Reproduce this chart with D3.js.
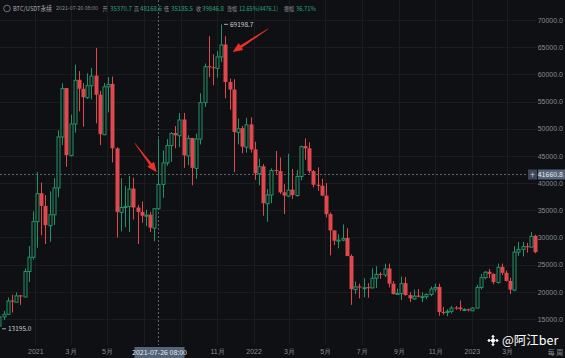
<!DOCTYPE html>
<html>
<head>
<meta charset="utf-8">
<script src="https://cdn.jsdelivr.net/npm/d3@7"></script>
<style>
    body { margin: 0; background: #0f1013; }
    svg { display: block; }
</style>
</head>
<body>
<div id="chart"></div>
<script>
// weekly BTC/USDT perp candles, first week starts 2020-11-02
var firstWeek = "2020-11-02";
var opens = [13780, 15480, 15960, 18400, 18180, 19350, 19140, 23830, 26450,
    33000, 38150, 35800, 32250, 34260, 39200, 48580, 57480, 45140, 50970, 59000, 57350, 55800, 58000, 59770, 56250, 49000, 57800, 58250, 46400, 34700, 35600, 35800, 39000, 35500, 34700, 34000, 34200, 31800, 35370.7, 39846.8, 43800, 47000, 49200, 48800, 51700, 45100, 48300, 42800, 48200, 54900, 61500, 61300, 61200, 63300, 65500, 58600, 57200, 49400, 50100, 46700, 50800,
    46200, 41800, 43100, 36300, 37900, 42400, 42200, 38300, 37700, 38800, 37800, 41300, 46800, 46400, 42200, 39700, 39500, 37700, 34300, 31300, 29400, 29600, 29900, 26600, 20500, 21000, 20800, 20850, 20800, 22600, 23300, 23200, 24300, 21500, 19600, 19800, 21600, 19400, 18800, 19300, 19100, 19200, 19600, 20600, 20900, 16300, 16300, 16500, 17100, 17100, 16800, 16800,
    16600, 17100, 20900, 22700, 23700, 23300, 21800, 24600, 23500, 22000, 20400, 27400, 27900, 28400, 28300, 30300];
var highs = [15960, 16480, 18950, 19480, 19900, 19420, 24300, 28420, 34800,
    42000, 40100, 37800, 38500, 40900, 49700, 58350, 57500, 52600, 61800, 60600, 58400, 60200, 61200, 64850, 57000, 58400, 59500, 59600, 46600, 40900, 39500, 41300, 41000, 36000, 36600, 35100, 34700, 35400, 48168.6, 46000, 48100, 49400, 50500, 52900, 52900, 48800, 48300, 49100, 56500, 62000, 67000, 63700, 64300, 69198.7, 67000, 59200, 59100, 51900, 50500, 52000, 52100,
    47600, 44500, 43500, 38900, 42700, 45900, 44700, 39800, 45400, 42600, 42400, 46900, 48200, 47500, 42400, 42900, 40800, 40000, 34600, 31300, 30600, 32400, 31700, 26900, 21900, 21500, 22500, 21600, 24300, 24700, 23600, 25200, 25200, 22000, 20600, 22800, 22700, 19900, 20400, 20500, 19900, 19700, 21000, 21500, 21500, 17200, 16800, 17400, 17400, 18400, 17000, 16900,
    17200, 21300, 23300, 23800, 24200, 23400, 25200, 25200, 23900, 22600, 28400, 29200, 29200, 29000, 31000, 30500];
var lows = [13195, 14800, 15780, 16200, 18100, 17600, 19000, 21800, 25900,
    28100, 30400, 28800, 29200, 32300, 37400, 47000, 43000, 44900, 49300, 53200, 50400, 55500, 55400, 51000, 47000, 48800, 53000, 43800, 30000, 31100, 31900, 31000, 33300, 28800, 32700, 32100, 31000, 29300, 35185.5, 37300, 43200, 43900, 46400, 46600, 42800, 43300, 39600, 40800, 47100, 54000, 59500, 58000, 59400, 62300, 55600, 53500, 42000, 47100, 45500, 45600, 45600,
    40600, 39600, 34000, 32900, 36300, 41700, 38000, 34300, 37400, 37100, 37500, 40500, 44300, 41800, 39200, 38600, 37600, 33700, 26700, 28600, 28000, 29300, 26600, 17600, 19600, 18800, 19000, 18900, 20800, 20700, 22400, 22700, 20800, 19500, 19500, 18500, 19300, 18100, 18500, 19000, 18100, 18600, 19200, 20000, 15600, 15800, 15500, 16000, 16700, 16500, 16600, 16400,
    16500, 17100, 20400, 22300, 22500, 21400, 21500, 23100, 21900, 19600, 20100, 26600, 26500, 27200, 28200, 27100];
var closes = [15480, 15960, 18400, 18180, 19350, 19140, 23830, 26450, 33000,
    38150, 35800, 32250, 34260, 39200, 48580, 57480, 45140, 50970, 59000, 57350, 55800, 58000, 59770, 56250, 49000, 57800, 58250, 46400, 34700, 35600, 35800, 39000, 35500, 34700, 34000, 34200, 31800, 35370.7, 39846.8, 43800, 47000, 49200, 48800, 51700, 45100, 48300, 42800, 48200, 54900, 61500, 61300, 61200, 63300, 65500, 58600, 57200, 49400, 50100, 46700, 50800, 46200,
    41800, 43100, 36300, 37900, 42400, 42200, 38300, 37700, 38800, 37800, 41300, 46800, 46400, 42200, 39700, 39500, 37700, 34300, 31300, 29400, 29600, 29900, 26570, 20500, 21000, 20800, 20850, 20800, 22600, 23300, 23200, 24300, 21500, 19600, 19800, 21600, 19400, 18800, 19300, 19100, 19200, 19600, 20600, 20900, 16300, 16280, 16500, 17100, 17080, 16800, 16840, 16600,
    17100, 20900, 22700, 23700, 23300, 21800, 24600, 23500, 22000, 20400, 27400, 27900, 28400, 28300, 30300, 27300];

var yTicks = [15000, 20000, 25000, 30000, 35000, 40000, 45000, 50000, 55000, 60000, 65000, 70000];
var xTickDates = ["2021-01-01", "2021-03-01", "2021-05-01", "2021-07-01", "2021-09-01", "2021-11-01",
    "2022-01-01", "2022-03-01", "2022-05-01", "2022-07-01", "2022-09-01", "2022-11-01",
    "2023-01-01", "2023-03-01"];
var xTickLabels = ["2021", "3月", "5月", "7月", "9月", "11月", "2022", "3月", "5月", "7月", "9月", "11月", "2023", "3月"];

// crosshair / header (hovered week)
var hoverDate = "2021-07-26";
var hoverPrice = 41660.8;
var header = {sym: "BTC/USDT永续", time: "2021-07-26 08:00", chg: "12.65%(4476.1)", amp: "36.71%"};

var W = 565, H = 358;
var plotW = 537, plotH = 345;
var UP = "#1f9469", DOWN = "#e0484e", BG = "#0f1013";
var parse = d3.timeParse("%Y-%m-%d");

var weeks = d3.timeMonday.range(parse(firstWeek), d3.timeDay.offset(parse(firstWeek), 7 * opens.length));
var data = weeks.map(function (d, i) {
    return {date: d, o: opens[i], h: highs[i], l: lows[i], c: closes[i]};
});

var x = d3.scaleTime()
    .domain([new Date(2020, 10, 3), new Date(2023, 3, 20)])
    .range([0, plotW]);
var y = d3.scaleLinear()
    .domain([10217, 73679])
    .range([plotH, 0]);

var svg = d3.select("#chart").append("svg")
    .attr("width", W)
    .attr("height", H)
    .style("font-family", "'Noto Sans CJK SC', 'Noto Sans', sans-serif");

svg.append("rect").attr("width", W).attr("height", H).attr("fill", BG);

// grid
var grid = svg.append("g").attr("stroke", "#1a1c20").attr("stroke-width", 1);
grid.selectAll(".hg").data(yTicks).enter().append("line")
    .attr("x1", 0).attr("x2", plotW)
    .attr("y1", function (d) { return Math.round(y(d)) + 0.5; })
    .attr("y2", function (d) { return Math.round(y(d)) + 0.5; });
grid.selectAll(".vg").data(xTickDates).enter().append("line")
    .attr("y1", 0).attr("y2", plotH)
    .attr("x1", function (d) { return Math.round(x(parse(d))) + 0.5; })
    .attr("x2", function (d) { return Math.round(x(parse(d))) + 0.5; });

var hx = Math.round(x(parse(hoverDate))) + 0.5;
var hy = Math.round(y(hoverPrice)) + 0.5;

// axes
var yAxis = d3.axisRight(y).tickValues(yTicks).tickSize(0).tickPadding(0)
    .tickFormat(function (d) { return d3.format(".1f")(d); });
var yg = svg.append("g").attr("transform", "translate(" + (W - 2) + ",0)").call(yAxis);
yg.select(".domain").remove();
yg.selectAll("text").attr("text-anchor", "end").attr("fill", "#868b93").style("font-size", "7px");

// labels hidden behind the crosshair time box are skipped
var shownTicks = xTickDates.map(parse).filter(function (d) {
    return Math.abs(x(d) - hx) > 32;
});
var xAxis = d3.axisBottom(x).tickValues(shownTicks).tickSize(0).tickPadding(0)
    .tickFormat(function (d) {
        return xTickLabels[xTickDates.indexOf(d3.timeFormat("%Y-%m-%d")(d))];
    });
var xg = svg.append("g").attr("transform", "translate(0," + (plotH + 4) + ")").call(xAxis);
xg.select(".domain").remove();
xg.selectAll("text").attr("fill", "#868b93").style("font-size", "7px");

// crosshair lines
svg.append("line").attr("x1", hx).attr("x2", hx).attr("y1", 0).attr("y2", plotH)
    .attr("stroke", "#5d626b").attr("stroke-dasharray", "2,2");
svg.append("line").attr("x1", 0).attr("x2", plotW).attr("y1", hy).attr("y2", hy)
    .attr("stroke", "#5d626b").attr("stroke-dasharray", "2,2");

// candles
var candle = svg.append("g").selectAll("g").data(data).enter().append("g")
    .attr("transform", function (d) { return "translate(" + Math.round(x(d.date)) + ",0)"; });

candle.append("line")
    .attr("x1", 0.5).attr("x2", 0.5)
    .attr("y1", function (d) { return y(d.h); })
    .attr("y2", function (d) { return y(d.l); })
    .attr("stroke", function (d) { return d.c >= d.o ? UP : DOWN; })
    .attr("stroke-width", 1);

candle.append("rect")
    .attr("x", function (d) { return d.c >= d.o ? -1 : -1.5; })
    .attr("width", function (d) { return d.c >= d.o ? 3 : 4; })
    .attr("y", function (d) { return y(Math.max(d.o, d.c)) + (d.c >= d.o ? 0.5 : 0); })
    .attr("height", function (d) { return Math.max(1, Math.abs(y(d.o) - y(d.c))); })
    .attr("fill", function (d) { return d.c >= d.o ? BG : DOWN; })
    .attr("stroke", function (d) { return d.c >= d.o ? UP : "none"; })
    .attr("stroke-width", 1);

// max / min markers
var hiD = data.reduce(function (a, b) { return b.h > a.h ? b : a; });
var loD = data.reduce(function (a, b) { return b.l < a.l ? b : a; });
function marker(d, v) {
    var px = Math.round(x(d.date)) + 3, py = y(v);
    svg.append("line").attr("x1", px).attr("x2", px + 4).attr("y1", py).attr("y2", py)
        .attr("stroke", "#c9ccd1").attr("stroke-width", 0.8);
    svg.append("text").attr("x", px + 6).attr("y", py).attr("dy", "0.35em")
        .attr("fill", "#c9ccd1").style("font-size", "6.5px").text(d3.format(".1f")(v));
}
marker(hiD, hiD.h);
marker(loD, loD.l);

// red annotation arrows
var arrows = [
    {from: ["2021-06-16", 47400], to: ["2021-07-23", 42000]},
    {from: ["2022-01-25", 68350], to: ["2021-11-27", 64100]}
];
arrows.forEach(function (a) {
    var x1 = x(parse(a.from[0])), y1 = y(a.from[1]);
    var x2 = x(parse(a.to[0])), y2 = y(a.to[1]);
    var dx = x2 - x1, dy = y2 - y1, len = Math.sqrt(dx * dx + dy * dy);
    var ux = dx / len, uy = dy / len, nx = -uy, ny = ux;
    var hl = 10, bx = x2 - ux * hl, by = y2 - uy * hl;
    var pts = [
        [x1 + nx * 0.3, y1 + ny * 0.3],
        [bx + nx * 1.4, by + ny * 1.4],
        [bx + nx * 4.2, by + ny * 4.2],
        [x2, y2],
        [bx - nx * 4.2, by - ny * 4.2],
        [bx - nx * 1.4, by - ny * 1.4],
        [x1 - nx * 0.3, y1 - ny * 0.3]
    ];
    svg.append("polygon").attr("points", pts.map(function (p) { return p.join(","); }).join(" "))
        .attr("fill", "#ef2f2a");
});

// crosshair labels
svg.append("rect").attr("x", hx - 24).attr("y", plotH + 2).attr("width", 50).attr("height", 11)
    .attr("fill", "#56647a");
svg.append("text").attr("x", hx + 1).attr("y", plotH + 8).attr("dy", "0.35em")
    .attr("text-anchor", "middle").attr("fill", "#e6e8eb").style("font-size", "7px").text(header.time);
svg.append("rect").attr("x", 528).attr("y", hy - 5).attr("width", 9).attr("height", 10).attr("fill", "#3f4656");
svg.append("text").attr("x", 532.5).attr("y", hy).attr("dy", "0.35em").attr("text-anchor", "middle")
    .attr("fill", "#c9ccd1").style("font-size", "9px").text("+");
svg.append("rect").attr("x", 538).attr("y", hy - 5).attr("width", 27).attr("height", 10).attr("fill", "#56647a");
svg.append("text").attr("x", W - 2).attr("y", hy).attr("dy", "0.35em").attr("text-anchor", "end")
    .attr("fill", "#e6e8eb").style("font-size", "7px").text(d3.format(".1f")(hoverPrice));

// header line; each piece squeezed into the width it has in the screenshot
var hd = data.filter(function (d) { return +d.date === +parse(hoverDate); })[0];
svg.append("circle").attr("cx", 7).attr("cy", 8.5).attr("r", 3.3).attr("fill", "none")
    .attr("stroke", "#868b93").attr("stroke-width", 0.8);
var GRAY = "#868b93", VAL = "#26a17a";
var parts = [
    [13, 39, header.sym, "#a7abb2", 6.5], [56, 42, header.time, GRAY, 5.6],
    [102.5, 5, "开", GRAY, 6], [110, 22, d3.format(".1f")(hd.o), VAL, 6.5],
    [134, 5, "高", GRAY, 6], [140, 22, d3.format(".1f")(hd.h), VAL, 6.5],
    [164, 5, "低", GRAY, 6], [171, 22, d3.format(".1f")(hd.l), VAL, 6.5],
    [196, 5, "收", GRAY, 6], [202, 22, d3.format(".1f")(hd.c), VAL, 6.5],
    [227, 10, "涨幅", GRAY, 6], [239, 39, header.chg, VAL, 6.5],
    [284, 10, "振幅", GRAY, 6], [296, 20, header.amp, VAL, 6.5]
];
svg.append("g").selectAll("text").data(parts).enter().append("text")
    .attr("x", function (p) { return p[0]; })
    .attr("y", 8.5).attr("dy", "0.35em")
    .attr("textLength", function (p) { return p[1]; })
    .attr("lengthAdjust", "spacingAndGlyphs")
    .attr("fill", function (p) { return p[3]; })
    .style("font-size", function (p) { return p[4] + "px"; })
    .text(function (p) { return p[2]; });

// bottom-right interval text + watermark
svg.append("text").attr("x", 555.5).attr("y", 353).attr("dy", "0.35em").attr("text-anchor", "middle")
    .attr("fill", "#868b93").style("font-size", "7px").text("每 周");
var wm = svg.append("g").attr("transform", "translate(493,340.5)").attr("fill", "#ffffff");
[[0, 0, 2], [-4, 0, 1.2], [4, 0, 1.2], [0, -4, 1.2], [0, 4, 1.2]].forEach(function (s) {
    wm.append("rect").attr("x", s[0] - s[2]).attr("y", s[1] - s[2]).attr("width", s[2] * 2).attr("height", s[2] * 2)
        .attr("transform", "rotate(45," + s[0] + "," + s[1] + ")");
});
svg.append("text").attr("x", 502).attr("y", 340.5).attr("dy", "0.35em").attr("fill", "#ffffff")
    .style("font-size", "12.5px").text("@阿江ber");
</script>
</body>
</html>
